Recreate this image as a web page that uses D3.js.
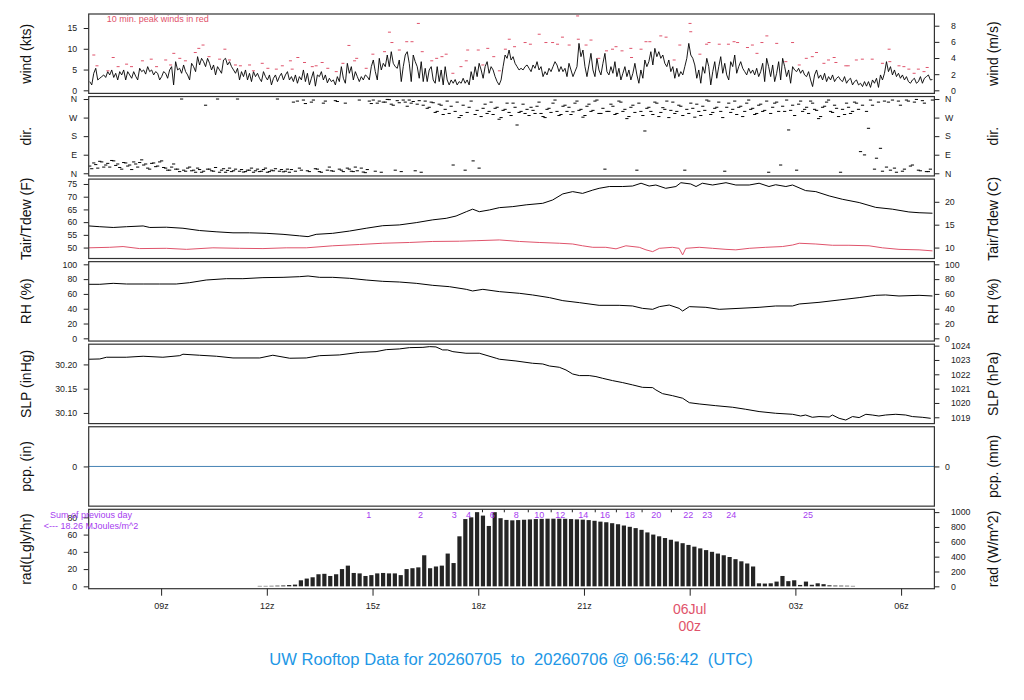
<!DOCTYPE html>
<html>
<head>
<meta charset="utf-8">
<title>UW Rooftop Data</title>
<script src="https://cdn.jsdelivr.net/npm/d3@7"></script>
<style>
  body { margin: 0; background: #fff; }
  svg { display: block; }
</style>
</head>
<body>
<svg id="chart" width="1024" height="700"></svg>
<script>
// ---- data ----
// hours are counted from 00z 5 Jul 2026 (so 24 = 00z 6 Jul)

// wind speed, kts, one sample every 204 s
const windStart = '2026-07-05T06:58:30Z';
const windStepSec = 204;
const windKts = [
  2.1,1.3,4.1,5.3,2.5,2.9,3.3,3.7,3.1,4.5, 3.7,4.9,3.1,4.1,2.5,4.5,3.7,4.9,2.5,4.5,
  3.7,2.9,4.5,3.4,2.5,5.3,4.5,4.9,3.9,5.7, 4.5,4.9,3.7,4.5,4.1,2.5,3.3,4.5,4.1,2.9,
  4.9,5.7,1.3,6.9,4.9,5.3,4.1,6.1,4.5,3.7, 2.5,6.5,5.7,4.5,8.1,6.1,7.7,6.9,5.7,7.7,
  6.5,4.9,6.1,3.7,5.7,4.9,4.1,7.3,7.7,6.1, 6.9,5.7,4.9,4.1,5.3,2.5,4.5,3.3,4.9,2.5,
  4.1,2.1,4.5,3.3,4.1,2.9,2.1,4.5,3.3,2.5, 3.7,1.3,2.9,3.7,2.1,3.3,4.1,2.5,3.7,4.5,
  2.5,3.3,2.1,3.7,1.7,3.3,2.5,4.9,2.1,4.1, 1.3,2.9,4.5,1.0,3.7,3.3,4.5,2.5,3.7,1.8,
  2.9,2.1,2.5,1.3,3.3,2.1,5.7,2.9,1.7,6.5, 4.1,5.7,2.5,4.5,3.3,2.1,3.3,2.5,3.7,3.3,
  2.5,5.7,7.3,4.5,2.5,7.7,4.9,6.5,5.7,8.5, 5.7,9.3,6.5,5.7,5.3,7.3,2.1,5.7,8.5,9.3,
  6.5,2.1,8.5,6.9,5.7,2.9,6.9,2.1,5.3,2.1, 4.9,5.7,2.5,1.7,5.7,2.1,4.9,1.3,5.7,2.5,
  1.3,2.5,1.7,2.6,1.3,2.1,1.7,2.9,1.7,2.5, 1.3,4.5,2.5,5.7,3.3,6.5,4.9,2.9,5.7,6.9,
  4.1,5.7,4.9,3.3,2.1,1.3,2.5,5.7,8.5,7.7, 9.7,7.3,8.1,6.5,5.7,4.9,
  5.3,4.9,5.7,6.1,5.3,4.5,6.1,5.3,6.9,4.9, 5.7,3.3,4.5,3.7,5.3,4.5,5.7,6.9,6.1,4.5,
  5.7,4.5,5.3,3.3,6.5,4.9,3.3,4.5,5.7,11.3, 8.1,9.7,5.7,3.3,6.1,8.9,4.9,3.3,7.7,4.9,
  3.7,6.5,8.9,4.5,3.7,5.7,4.1,6.9,3.3,5.3, 2.5,4.1,5.7,3.3,4.9,2.5,4.1,6.5,3.7,1.7,
  4.9,2.9,7.3,5.7,6.9,9.3,6.1,10.1,8.1,9.3, 7.7,8.5,6.5,5.7,7.3,4.5,5.7,2.9,5.3,3.3,
  4.5,3.7,5.7,7.7,11.3,8.5,7.7,6.1,2.9,4.9, 1.7,5.7,4.1,7.7,5.7,1.3,4.5,6.9,2.9,5.7,
  8.1,4.1,6.5,3.7,2.5,6.9,5.7,8.5,4.1,5.7, 6.9,5.3,4.5,3.7,5.3,4.1,4.9,3.7,5.3,3.3,
  4.5,6.5,2.1,7.7,5.7,3.3,6.1,2.1,4.1,6.9, 2.5,7.7,5.7,3.3,4.9,1.7,5.7,4.9,4.5,5.3,
  4.1,4.9,3.7,3.3,4.5,2.5,0.9,3.7,4.9,2.9, 3.7,2.5,4.1,2.1,3.3,2.5,3.7,2.1,2.9,3.3,
  2.5,2.1,3.3,1.7,2.5,2.9,1.3,2.1,2.5,1.3, 1.7,0.9,2.1,1.0,2.1,0.7,2.5,1.7,2.9,0.7,
  3.7,2.5,4.1,6.9,4.5,5.7,3.7,4.9,3.3,4.1, 2.9,3.7,2.5,3.3,2.1,1.7,2.5,2.9,1.7,2.1,
  3.3,1.7,2.9,3.3,3.7,2.5,2.6
];

// 10 min. peak winds, kts
const peakHours = [
  7.09,7.18,7.49,7.64,7.78,8.02,8.16,8.47,8.72,8.87,9.13,9.27,9.36,9.53,9.69,9.97,10.07,10.19,10.36,10.66,
  10.81,10.94,11.11,11.25,11.51,11.62,11.87,12.03,12.27,12.44,12.67,12.72,12.88,13.07,13.29,13.40,13.57,13.73,13.97,14.16,
  14.33,14.49,14.55,14.82,15.01,15.34,15.48,15.55,15.76,15.97,16.12,16.30,16.41,16.68,16.82,16.97,17.09,17.28,17.51,17.66,
  17.70,18.00,18.13,18.27,18.44,18.60,18.77,18.88,19.03,19.33,19.48,19.73,19.92,20.11,20.25,20.39,20.58,20.82,20.84,21.06,
  21.20,21.42,21.64,21.81,21.91,22.08,22.33,22.35,22.62,22.76,22.87,23.18,23.33,23.56,23.72,24.01,24.03,24.29,24.48,24.55,
  24.84,25.10,25.26,25.36,25.64,25.78,25.91,26.05,26.19,26.47,26.73,26.92,27.11,27.31,27.48,27.60,27.81,27.94,28.10,28.15,
  28.43,28.50,28.73,28.90,29.18,29.47,29.66,29.68,29.94,30.08,30.22,30.37,30.49,30.65,30.74
];
const peakKts = [
  8.5,5.9,4.7,7.9,5.7,6.3,5.7,7.1,7.5,5.7,7.3,6.1,8.9,7.7,7.1,9.1,10.1,10.9,8.1,7.5,
  9.9,7.3,6.1,5.9,6.1,4.7,6.5,5.3,5.1,5.9,7.1,5.1,7.9,6.7,5.7,5.9,6.7,5.3,4.5,6.5,
  10.8,7.1,7.7,5.3,8.7,9.3,14.0,11.5,9.7,11.7,11.7,16.1,9.3,7.1,7.7,8.1,8.7,4.1,5.7,7.1,
  9.7,9.7,6.1,10.1,8.1,4.7,9.9,12.3,10.5,11.5,11.1,13.5,11.5,11.5,11.1,12.8,10.9,17.9,12.3,10.9,
  12.1,7.7,9.5,9.9,10.5,9.5,10.1,7.9,9.9,11.7,11.7,13.1,12.8,7.3,10.9,16.1,14.1,8.7,11.1,11.5,
  11.1,11.1,11.7,11.5,10.3,10.9,8.9,11.5,13.1,11.3,6.9,11.5,6.1,7.7,8.1,9.1,6.5,7.3,7.9,6.7,
  5.9,5.9,7.3,7.5,7.5,6.5,9.9,6.9,5.9,5.7,5.1,4.1,5.1,4.5,5.5
];

// wind direction, degrees, same 204 s sampling as the wind speed
const dirDeg = [
  35,22,50,42,25,58,55,30,40,48, 30,62,60,38,45,28,20,52,50,35,
  40,18,55,45,30,52,65,40,45,25, 20,48,50,32,35,55,60,28,25,15,
  15,30,45,20,20,8,360,15,10,25, 30,12,15,5,25,18,5,10,330,20,
  20,12,10,28,360,5,15,22,5,14, 25,8,12,20,360,10,18,6,8,15,
  15,25,5,12,20,8,10,18,25,5, 8,15,12,22,360,10,18,7,10,20,
  5,18,345,10,350,25,15,355,338,12, 8,345,355,22,20,8,5,340,350,15,
  30,12,10,352,348,20,15,8,340,25, 20,10,8,30,12,355,25,6,3,18,
  350,338,355,10,340,350,5,345,345,358, 357,335,330,15,352,342,8,355,345,325,
  355,340,348,12,335,352,5,330,350,315, 320,345,342,295,300,335,330,285,310,350,
  290,325,40,300,345,270,280,330,15,295, 320,350,60,285,305,25,275,315,335,290,
  300,345,285,315,320,262,270,305,310,340, 295,280,340,320,234,295,300,335,290,310,
  280,320,305,290,325,345,290,275,270,310, 315,295,340,355,300,280,285,325,330,300,
  320,285,298,340,350,305,310,272,280,325, 335,300,305,350,355,290,290,315,20,300,
  300,335,325,285,290,350,345,300,310,265, 275,320,330,295,15,340,300,280,205,315,
  320,300,285,345,340,275,295,318,310,350, 270,305,345,290,300,330,325,280,15,310,
  290,340,315,272,335,300,280,325,305,355, 350,285,295,315,320,345,300,270,10,320,
  340,295,310,350,285,320,325,275,300,340, 355,310,315,285,290,330,335,300,305,350,
  5,290,320,340,345,300,40,325,300,355, 210,305,330,280,15,335,350,300,310,320,
  290,350,340,310,305,265,275,320,325,345, 355,300,295,330,315,275,5,310,285,340,
  320,290,300,345,340,310,105,330,89,300, 218,355,330,20,73,345,121,10,350,30,
  345,15,355,25,5,350,330,10,20,355, 350,35,40,345,358,15,12,352,340,8,
  8,20,355
];

// air temperature, F
const tairHours = [
  6.95,7.26,7.64,8.02,8.49,8.68,9.15,9.62,10.09,10.56,11.04,11.51,11.98,12.46,12.93,13.17,13.40,13.87,14.35,14.82,
  15.29,15.76,16.24,16.71,17.09,17.37,17.66,17.84,18.03,18.32,18.60,18.98,19.36,19.83,20.11,20.40,20.68,20.96,21.25,21.43,
  21.72,22.10,22.38,22.62,22.85,23.04,23.32,23.61,23.75,24.03,24.18,24.36,24.65,25.03,25.31,25.69,25.97,26.25,26.44,26.73,
  26.92,27.29,27.58,27.96,28.33,28.81,29.28,29.75,30.22,30.51,30.89
];
const tairF = [
  58.5,58.2,57.9,58.2,58.5,57.9,58.0,57.6,56.7,56.2,55.8,55.8,55.6,55.2,54.6,54.3,55.2,55.6,56.5,57.6,
  58.6,58.9,59.8,60.9,61.5,62.4,64.1,65.1,64.1,64.8,65.7,66.1,66.8,67.4,68.7,71.1,72.0,71.3,72.6,73.3,
  74.0,74.0,74.2,75.3,74.2,74.6,73.3,74.0,75.5,75.0,74.0,75.3,74.6,75.5,74.6,74.6,75.3,74.0,74.7,74.0,
  74.6,72.4,72.0,70.3,69.0,67.7,65.8,65.1,64.0,63.7,63.5
];

// dew point, F
const tdewHours = [
  6.95,7.54,7.92,8.39,9.15,9.72,10.47,11.23,11.89,12.55,13.12,13.87,14.63,15.29,16.05,16.71,17.47,17.94,
  18.60,19.17,19.73,20.30,20.68,20.96,21.25,21.62,21.91,22.19,22.57,22.76,22.95,23.14,23.51,23.70,23.80,23.89,
  24.27,24.65,25.03,25.31,25.69,26.16,26.63,26.92,27.11,27.58,28.05,28.52,29.09,29.47,29.94,30.51,30.89
];
const tdewF = [
  49.9,50.1,50.4,49.6,49.7,49.3,49.9,49.7,49.6,49.9,49.9,50.7,51.2,51.7,52.0,52.4,52.5,52.7,
  53.0,52.4,52.0,51.7,51.4,50.7,50.1,50.1,49.5,50.7,50.1,49.1,48.4,49.7,50.1,49.7,47.1,49.7,
  50.1,49.7,49.3,49.1,49.7,50.1,50.4,51.0,51.7,51.4,50.9,50.9,50.7,49.9,49.3,49.1,48.7
];

// relative humidity, %
const rhHours = [
  6.95,7.26,7.64,8.02,8.49,8.96,9.43,9.81,10.28,10.85,11.32,11.89,12.46,12.93,13.17,13.50,13.87,14.35,14.82,15.29,
  15.76,16.24,16.71,17.18,17.66,17.84,18.13,18.60,19.17,19.54,20.02,20.40,20.87,21.43,22.00,22.38,22.66,22.95,23.14,23.42,
  23.70,23.80,23.99,24.46,24.84,25.40,25.97,26.44,26.92,27.11,27.67,28.24,28.81,29.28,29.56,29.94,30.51,30.89
];
const rhPct = [
  73.0,73.0,74.3,73.4,73.4,73.4,73.4,75.2,78.8,80.6,80.6,82.0,82.4,83.3,84.2,82.4,82.4,81.1,78.8,77.0,
  76.1,74.3,71.6,69.8,66.2,64.0,66.2,63.1,60.8,58.6,55.0,50.9,48.2,44.6,44.6,43.7,40.5,39.2,42.8,45.0,
  40.5,36.9,42.8,41.9,39.2,40.5,41.9,43.7,43.7,46.4,48.6,51.8,55.0,58.1,58.6,57.2,58.1,57.2
];

// sea level pressure, hPa
const slpHours = [
  6.95,7.26,7.45,8.01,8.49,9.05,9.53,9.62,10.09,10.57,11.04,11.80,12.17,12.65,13.12,13.50,14.06,14.63,15.10,15.39,
  15.76,16.05,16.43,16.62,16.80,16.99,17.13,17.28,17.65,18.03,18.51,18.60,19.07,19.54,19.83,20.02,20.30,20.49,20.68,20.87,
  21.15,21.34,21.53,21.81,22.10,22.38,22.66,22.95,23.04,23.23,23.51,23.80,23.99,24.27,24.74,25.22,25.59,25.97,26.44,26.92,
  27.15,27.29,27.48,27.67,27.96,28.05,28.24,28.43,28.62,28.81,29.00,29.18,29.37,29.56,29.85,30.13,30.32,30.60,30.84
];
const slpHPa = [
  1023.05,1023.07,1023.19,1023.19,1023.26,1023.19,1023.30,1023.40,1023.33,1023.26,1023.14,1023.14,1023.33,1023.12,1023.14,1023.30,1023.35,1023.53,1023.58,1023.72,
  1023.77,1023.86,1023.88,1023.93,1023.91,1023.70,1023.70,1023.58,1023.47,1023.47,1023.12,1023.05,1022.93,1022.77,1022.72,1022.58,1022.49,1022.30,1022.02,1021.91,
  1021.91,1021.84,1021.72,1021.56,1021.42,1021.26,1021.09,1021.07,1020.91,1020.65,1020.51,1020.33,1020.02,1019.93,1019.81,1019.70,1019.56,1019.40,1019.28,1019.21,
  1019.09,1019.16,1019.00,1019.05,1019.02,1019.16,1018.93,1018.81,1019.05,1018.98,1019.21,1019.16,1019.09,1019.16,1019.21,1019.16,1019.05,1019.00,1018.93
];

// precipitation, in
const pcpHours = [6.95, 30.95];
const pcpIn = [0, 0];

// solar radiation, Lgly/hr, one bar every 10 min from 11.8 h
const radStartHour = 11.8;
const radStepMin = 10;
const radLgly = [
  0.5,0.5,0.6,0.8,1.0,1.5,2.0,7,9,10.5,
  14,14.5,12,14,20,24,15.5,15,12,13,
  15,15.5,15,15,13,20,21,22,36,21,
  23,24,38,27,58,78,80,86,82,70,
  86,79,77,76.5,76.8,77.2,77.6,78,78.2,78.4,
  78.4,78.4,78.3,78.0,77.6,77.3,76.8,76.0,75.0,74.3,
  73.2,72.0,70.5,69.0,67.5,65.5,62.5,60,58,56,
  54,52,50,48,46,44,42,40,38,36,
  34,31.5,29,26.5,23,3.5,3.2,3.5,5.5,12,
  6,7,1.6,5.5,1.8,3.5,2.5,1.2,0.9,0.8,
  0.7,0.5
];
// accumulated MJ/m^2 marks along the top of the rad panel
const radMarkHours = [14.89,16.36,17.32,17.72,18.12,18.40,18.74,19.08,19.42,19.73,20.07,20.33,20.67,
                      20.98,21.32,21.60,21.92,22.31,22.65,23.05,23.48,23.96,24.50,25.18,27.36];
const radMarkLabels = ['1','2','3','4','','6','','8','','10','','12','',
                       '14','','16','','18','','20','','22','23','24','25'];

const xTickHours  = [9, 12, 15, 18, 21, 24, 27, 30];
const xTickLabels = ['09z','12z','15z','18z','21z','','03z','06z'];

// ---- drawing ----
const FONT = '"Liberation Sans", Arial, Helvetica, sans-serif';
const RED = '#DF536B', BLUE = '#2297E6', PURPLE = '#a63cf0', INK = '#222';
const T0 = Date.UTC(2026, 6, 5);
const hr = h => new Date(T0 + h * 3600e3);

const svg = d3.select('#chart').attr('font-family', FONT);

const x = d3.scaleUtc()
  .domain([new Date('2026-07-05T06:56:42Z'), new Date('2026-07-06T06:56:42Z')])
  .range([88.7, 934.4]);

const left = x.range()[0], right = x.range()[1];

function panel(i, domain) {
  const top = 14 + i * 82.55, bottom = top + 79.4;
  const y = d3.scaleLinear().domain(domain).range([bottom, top]);
  const id = 'clip' + i;
  svg.append('clipPath').attr('id', id)
    .append('rect').attr('x', left).attr('y', top).attr('width', right - left).attr('height', bottom - top);
  const g = svg.append('g').attr('clip-path', `url(#${id})`);
  return { top, bottom, y, g };
}

function styleAxis(g) {
  g.attr('font-family', FONT).attr('font-size', 8.8);
  g.select('.domain').remove();
  g.selectAll('line').attr('stroke', INK);
  g.selectAll('text').attr('fill', INK);
}

function axes(p, lScale, lVals, lFmt, lLabel, rScale, rVals, rFmt, rLabel, rPad) {
  svg.append('g').attr('transform', `translate(${left},0)`)
    .call(d3.axisLeft(lScale).tickValues(lVals).tickFormat(lFmt).tickSize(5).tickPadding(6.5))
    .call(styleAxis);
  svg.append('g').attr('transform', `translate(${right},0)`)
    .call(d3.axisRight(rScale).tickValues(rVals).tickFormat(rFmt).tickSize(5).tickPadding(rPad))
    .call(styleAxis);
  const cy = (p.top + p.bottom) / 2;
  svg.append('text').attr('transform', `translate(31,${cy}) rotate(-90)`)
    .attr('text-anchor', 'middle').attr('font-size', 14).attr('fill', '#111').text(lLabel);
  svg.append('text').attr('transform', `translate(998,${cy}) rotate(-90)`)
    .attr('text-anchor', 'middle').attr('font-size', 14).attr('fill', '#111').text(rLabel);
  svg.append('rect').attr('x', left).attr('y', p.top)
    .attr('width', right - left).attr('height', p.bottom - p.top)
    .attr('fill', 'none').attr('stroke', '#333').attr('stroke-width', 1.2);
}

const conv = (s, f) => d3.scaleLinear().domain(s.domain().map(f)).range(s.range());
const fmt = d => String(d);
const pairs = (hs, vs) => hs.map((h, i) => ({ t: hr(h), v: vs[i] }));
const regular = (start, stepSec, vs) =>
  vs.map((v, i) => ({ t: new Date(new Date(start).getTime() + i * stepSec * 1000), v }));

// 1) wind
const pW = panel(0, [-0.74, 18.37]);
const wind = regular(windStart, windStepSec, windKts);
pW.g.append('path').datum(wind)
  .attr('d', d3.line().x(d => x(d.t)).y(d => pW.y(d.v)))
  .attr('fill', 'none').attr('stroke', '#000').attr('stroke-width', 0.9);
pW.g.selectAll('line.peak').data(pairs(peakHours, peakKts)).join('line')
  .attr('x1', d => x(d.t) - 1.5).attr('x2', d => x(d.t) + 1.5)
  .attr('y1', d => pW.y(d.v)).attr('y2', d => pW.y(d.v))
  .attr('stroke', RED).attr('stroke-width', 1);
svg.append('text').attr('x', 106.7).attr('y', 22).attr('font-size', 9).attr('fill', RED)
  .text('10 min. peak winds in red');
axes(pW, pW.y, [0, 5, 10, 15], fmt, 'wind (kts)',
  conv(pW.y, v => v / 1.94384), [0, 2, 4, 6, 8], fmt, 'wind (m/s)', 11.5);

// 2) direction
const pD = panel(1, [-13, 372]);
pD.g.selectAll('line').data(regular(windStart, windStepSec, dirDeg)).join('line')
  .attr('x1', d => x(d.t) - 1.6).attr('x2', d => x(d.t) + 1.6)
  .attr('y1', d => pD.y(d.v)).attr('y2', d => pD.y(d.v))
  .attr('stroke', '#000').attr('stroke-width', 1);
const compass = ['N', 'E', 'S', 'W', 'N'];
axes(pD, pD.y, [0, 90, 180, 270, 360], d => compass[d / 90], 'dir.',
  pD.y, [0, 90, 180, 270, 360], d => compass[d / 90], 'dir.', 5.5);

// 3) temperature / dew point
const pT = panel(2, [45.7, 76.92]);
const tline = d3.line().x(d => x(d.t)).y(d => pT.y(d.v));
pT.g.append('path').datum(pairs(tairHours, tairF)).attr('d', tline)
  .attr('fill', 'none').attr('stroke', '#000').attr('stroke-width', 1);
pT.g.append('path').datum(pairs(tdewHours, tdewF)).attr('d', tline)
  .attr('fill', 'none').attr('stroke', RED).attr('stroke-width', 1);
axes(pT, pT.y, [50, 55, 60, 65, 70, 75], fmt, 'Tair/Tdew (F)',
  conv(pT.y, v => (v - 32) * 5 / 9), [10, 15, 20], fmt, 'Tair/Tdew (C)', 5.5);

// 4) relative humidity
const pR = panel(3, [-3.68, 103.6]);
pR.g.append('path').datum(pairs(rhHours, rhPct))
  .attr('d', d3.line().x(d => x(d.t)).y(d => pR.y(d.v)))
  .attr('fill', 'none').attr('stroke', '#000').attr('stroke-width', 1);
axes(pR, pR.y, [0, 20, 40, 60, 80, 100], fmt, 'RH (%)',
  pR.y, [0, 20, 40, 60, 80, 100], fmt, 'RH (%)', 5.5);

// 5) sea level pressure
const pS = panel(4, [1018.56, 1024.10]);
pS.g.append('path').datum(pairs(slpHours, slpHPa))
  .attr('d', d3.line().x(d => x(d.t)).y(d => pS.y(d.v)))
  .attr('fill', 'none').attr('stroke', '#000').attr('stroke-width', 1);
axes(pS, conv(pS.y, v => v / 33.8639), [30.10, 30.15, 30.20], d => d.toFixed(2), 'SLP (inHg)',
  pS.y, [1019, 1020, 1021, 1022, 1023, 1024], fmt, 'SLP (hPa)', 11.5);

// 6) precipitation
const pP = panel(5, [-1, 1]);
pP.g.append('path').datum(pairs(pcpHours, pcpIn))
  .attr('d', d3.line().x(d => x(d.t)).y(d => pP.y(d.v)))
  .attr('fill', 'none').attr('stroke', '#4682B4').attr('stroke-width', 1);
axes(pP, pP.y, [0], fmt, 'pcp. (in)',
  conv(pP.y, v => v * 25.4), [0], fmt, 'pcp. (mm)', 5.5);

// 7) radiation
const pA = panel(6, [-2.75, 89.31]);
const rad = radLgly.map((v, i) => ({ t: hr(radStartHour + i * radStepMin / 60), v }));
pA.g.selectAll('rect').data(rad).join('rect')
  .attr('x', d => x(d.t) - 2.1).attr('width', 4.2)
  .attr('y', d => pA.y(d.v)).attr('height', d => pA.y(0) - pA.y(d.v))
  .attr('fill', '#242424');
const marks = radMarkHours.map((h, i) => ({ t: hr(h), label: radMarkLabels[i] }));
pA.g.selectAll('line.mark').data(marks.filter(d => !d.label)).join('line')
  .attr('x1', d => x(d.t)).attr('x2', d => x(d.t))
  .attr('y1', pA.top).attr('y2', pA.top + 3)
  .attr('stroke', INK).attr('stroke-width', 1);
svg.append('g').selectAll('text').data(marks.filter(d => d.label)).join('text')
  .attr('x', d => x(d.t)).attr('y', 518).attr('text-anchor', 'middle')
  .attr('font-size', 9).attr('fill', PURPLE).text(d => d.label);
axes(pA, pA.y, [0, 20, 40, 60, 80], fmt, 'rad(Lgly/hr)',
  conv(pA.y, v => v * 11.622), [0, 200, 400, 600, 800, 1000], fmt, 'rad (W/m^2)', 11.5);
svg.append('text').attr('x', 91).attr('y', 518.3).attr('text-anchor', 'middle')
  .attr('font-size', 9).attr('fill', PURPLE).text('Sum of previous day');
svg.append('text').attr('x', 91).attr('y', 528.6).attr('text-anchor', 'middle')
  .attr('font-size', 9).attr('fill', PURPLE).text('<--- 18.26 MJoules/m^2');

// time axis
svg.append('g').attr('transform', `translate(0,${pA.bottom})`)
  .call(d3.axisBottom(x).tickValues(xTickHours.map(hr))
    .tickFormat((d, i) => xTickLabels[i]).tickSize(7).tickPadding(7))
  .call(styleAxis)
  .attr('font-size', 9);
svg.append('text').attr('x', x(hr(24))).attr('y', 614).attr('text-anchor', 'middle')
  .attr('font-size', 14).attr('fill', RED).text('06Jul');
svg.append('text').attr('x', x(hr(24))).attr('y', 630.7).attr('text-anchor', 'middle')
  .attr('font-size', 14).attr('fill', RED).text('00z');

svg.append('text').attr('x', 511).attr('y', 664.5).attr('text-anchor', 'middle')
  .attr('font-size', 16.6).attr('fill', BLUE).style('white-space', 'pre')
  .text('UW Rooftop Data for 20260705  to  20260706 @ 06:56:42  (UTC)');
</script>
</body>
</html>
